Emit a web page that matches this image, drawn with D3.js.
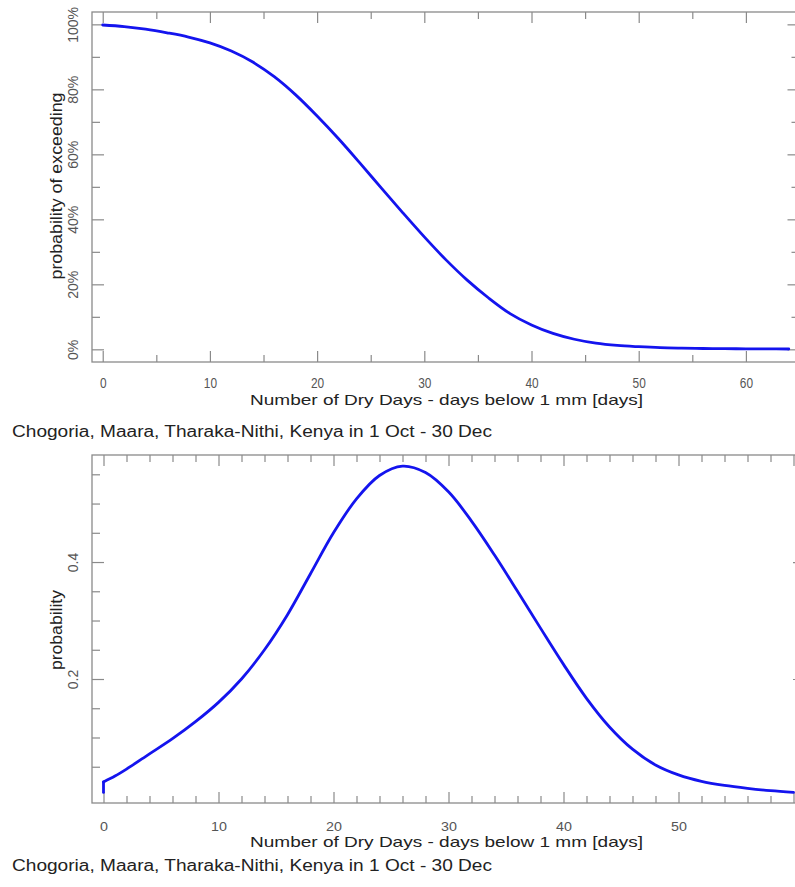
<!DOCTYPE html>
<html>
<head>
<meta charset="utf-8">
<script src="https://cdn.jsdelivr.net/npm/d3@7"></script>
<style>
  html, body { margin: 0; padding: 0; background: #fff; }
  svg { display: block; font-family: "Liberation Sans", Arial, Helvetica, sans-serif; }
</style>
</head>
<body>
<svg id="chart" width="795" height="887"></svg>
<script>
// ---------- data ----------
const topDays = [0,2,4,6,8,10,12,14,16,18,20,22,24,26,28,30,32,34,36,38,40,42,44,46,48,50,52,54,56,58,60,62,64];
const topExceed = [99.8,99.3,98.5,97.4,96.1,94.3,91.8,88.4,83.9,78.3,71.8,64.8,57.3,49.6,42.0,34.6,27.6,21.3,15.8,11.0,7.5,4.9,3.1,1.9,1.2,0.8,0.5,0.35,0.25,0.2,0.15,0.12,0.1];

const botStartDays = [0, 0];
const botStartProb = [0.006, 0.024];
const botDays = [0,1,2,4,6,8,10,12,14,16,18,20,22,24,26,28,30,32,34,36,38,40,42,44,46,48,50,52,54,56,58,60];
const botProb = [0.024,0.034,0.046,0.072,0.098,0.127,0.160,0.200,0.250,0.310,0.380,0.450,0.508,0.548,0.564,0.553,0.520,0.470,0.412,0.350,0.287,0.225,0.167,0.118,0.080,0.053,0.036,0.025,0.018,0.013,0.009,0.006];

const topXMajor = [0,10,20,30,40,50,60];
const topXMinor = [5,15,25,35,45,55,65];
const topXLabels = [0,10,20,30,40,50,60];
const topYMajor = [0,20,40,60,80,100];
const topYMinor = [10,30,50,70,90];
const topYLabels = ["0%","20%","40%","60%","80%","100%"];

const botXMajor = [0,10,20,30,40,50,60];
const botXMinor = [2,4,6,8,12,14,16,18,22,24,26,28,32,34,36,38,42,44,46,48,52,54,56,58];
const botXLabels = [0,10,20,30,40,50];
const botYMajor = [0.2,0.4];
const botYMinor = [0.05,0.1,0.15,0.25,0.3,0.35,0.45,0.5,0.55];
const botYLabels = ["0.2","0.4"];

const xTitle = "Number of Dry Days - days below 1 mm [days]";
const topYTitle = "probability of exceeding";
const botYTitle = "probability";
const caption = "Chogoria, Maara, Tharaka-Nithi, Kenya in 1 Oct - 30 Dec";

// ---------- drawing ----------
const svg = d3.select("#chart");
const frameColor = "#8a8a8a";
const lineColor = "#1414ee";

function panel(cfg) {
  const g = svg.append("g");
  const x = d3.scaleLinear().domain(cfg.xDomain).range([cfg.left, cfg.right]);
  const y = d3.scaleLinear().domain(cfg.yDomain).range([cfg.bottom, cfg.top]);

  function tickAxis(axisFn, scale, values, size, translate) {
    const a = g.append("g").attr("transform", translate)
      .call(axisFn(scale).tickValues(values).tickSize(-size).tickSizeOuter(0).tickFormat(""));
    a.select(".domain").remove();
    a.selectAll("line").attr("stroke", frameColor).attr("stroke-width", 1.2);
    return a;
  }
  tickAxis(d3.axisBottom, x, cfg.xMajor, 11, `translate(0,${cfg.bottom})`);
  tickAxis(d3.axisBottom, x, cfg.xMinor, 7, `translate(0,${cfg.bottom})`);
  tickAxis(d3.axisTop, x, cfg.xMajor, 11, `translate(0,${cfg.top})`);
  tickAxis(d3.axisTop, x, cfg.xMinor, 7, `translate(0,${cfg.top})`);
  tickAxis(d3.axisLeft, y, cfg.yMajor, 12, `translate(${cfg.left},0)`);
  tickAxis(d3.axisLeft, y, cfg.yMinor, 8, `translate(${cfg.left},0)`);
  tickAxis(d3.axisRight, y, cfg.yMajor, 12, `translate(${cfg.right},0)`);
  tickAxis(d3.axisRight, y, cfg.yMinor, 8, `translate(${cfg.right},0)`);

  g.append("rect")
    .attr("x", cfg.left).attr("y", cfg.top)
    .attr("width", cfg.right - cfg.left).attr("height", cfg.bottom - cfg.top)
    .attr("fill", "none").attr("stroke", frameColor).attr("stroke-width", 1.3);

  const xl = g.append("g").attr("transform", `translate(0,${cfg.bottom})`)
    .call(d3.axisBottom(x).tickValues(cfg.xLabels).tickSize(0).tickFormat(d3.format("d")));
  xl.select(".domain").remove();
  xl.selectAll("text")
    .attr("y", 0).attr("dy", 0)
    .attr("transform", `translate(0,${cfg.xLabelOffset}) scale(${cfg.xLabelSx},1)`)
    .attr("font-size", cfg.xLabelSize).attr("fill", "#555")
    .attr("font-family", "Liberation Sans, Arial, sans-serif");

  const yl = g.append("g").attr("transform", `translate(${cfg.left},0)`)
    .call(d3.axisLeft(y).tickValues(cfg.yMajor).tickSize(0)
      .tickFormat((d, i) => cfg.yLabels[i]));
  yl.select(".domain").remove();
  yl.selectAll("text")
    .attr("x", 0).attr("y", 0).attr("dy", 0)
    .attr("text-anchor", "middle")
    .attr("transform", "translate(-14,0) rotate(-90)")
    .attr("font-size", 14).attr("fill", "#555")
    .attr("font-family", "Liberation Sans, Arial, sans-serif");

  g.append("text")
    .attr("x", 250).attr("y", cfg.xTitleY)
    .attr("textLength", 393).attr("lengthAdjust", "spacingAndGlyphs")
    .attr("font-size", 15).attr("fill", "#222")
    .text(xTitle);
  g.append("text")
    .attr("transform", `translate(62,${cfg.yTitleY}) rotate(-90)`)
    .attr("text-anchor", "middle")
    .attr("textLength", cfg.yTitleLen).attr("lengthAdjust", "spacingAndGlyphs")
    .attr("font-size", 16).attr("fill", "#222")
    .text(cfg.yTitle);
  g.append("text")
    .attr("x", 12).attr("y", cfg.captionY)
    .attr("textLength", 480).attr("lengthAdjust", "spacingAndGlyphs")
    .attr("font-size", 16).attr("fill", "#222")
    .text(caption);

  const clipId = "clip" + cfg.id;
  svg.append("clipPath").attr("id", clipId).append("rect")
    .attr("x", cfg.left).attr("y", cfg.top)
    .attr("width", cfg.right - cfg.left).attr("height", cfg.bottom - cfg.top);
  cfg.series.forEach(s => {
    const pts = s.xs.map((d, i) => [x(d), y(s.ys[i])]);
    g.append("path")
      .attr("clip-path", `url(#${clipId})`)
      .attr("d", d3.line().curve(s.curve)(pts))
      .attr("fill", "none").attr("stroke", lineColor)
      .attr("stroke-width", 2.8).attr("stroke-linejoin", "round").attr("stroke-linecap", "round");
  });
}

panel({
  id: "top",
  left: 92, right: 799.5, top: 12, bottom: 362,
  xDomain: [-1, 65], yDomain: [-3.9, 103.8],
  xMajor: topXMajor, xMinor: topXMinor, xLabels: topXLabels,
  yMajor: topYMajor, yMinor: topYMinor, yLabels: topYLabels,
  xLabelOffset: 26, xLabelSx: 0.82, xLabelSize: 14.5,
  xTitleY: 405, yTitle: topYTitle, yTitleY: 186, yTitleLen: 187, captionY: 437,
  series: [{ xs: topDays, ys: topExceed, curve: d3.curveCatmullRom.alpha(0.5) }]
});

panel({
  id: "bot",
  left: 92, right: 805, top: 455, bottom: 803,
  xDomain: [-1, 61], yDomain: [-0.012, 0.583],
  xMajor: botXMajor, xMinor: botXMinor, xLabels: botXLabels,
  yMajor: botYMajor, yMinor: botYMinor, yLabels: botYLabels,
  xLabelOffset: 28, xLabelSx: 1.1, xLabelSize: 13,
  xTitleY: 847, yTitle: botYTitle, yTitleY: 630, yTitleLen: 80, captionY: 871,
  series: [
    { xs: botStartDays, ys: botStartProb, curve: d3.curveLinear },
    { xs: botDays, ys: botProb, curve: d3.curveCatmullRom.alpha(0.5) }
  ]
});
</script>
</body>
</html>
